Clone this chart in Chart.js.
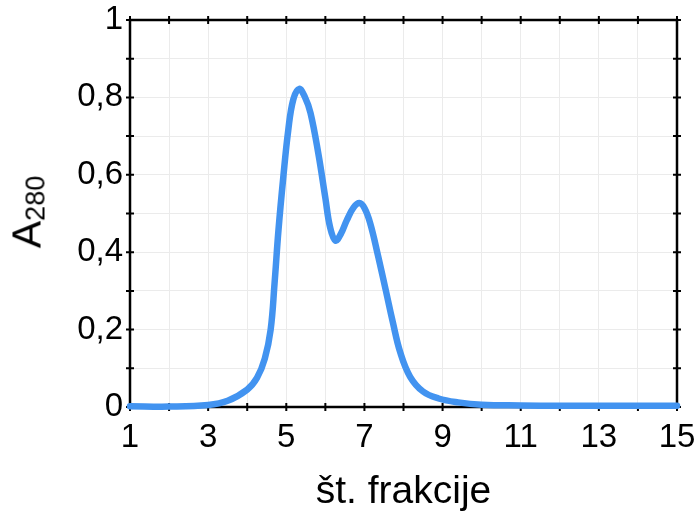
<!DOCTYPE html>
<html>
<head>
<meta charset="utf-8">
<script src="https://cdn.jsdelivr.net/npm/chart.js@4.4.1/dist/chart.umd.min.js"></script>
<style>
    html, body { margin: 0; padding: 0; background: #fff; }
    #wrap { position: relative; width: 696px; height: 516px; }
    #ytitle {
        position: absolute; left: 28px; top: 212px;
        transform: translate(-50%, -50%) rotate(-90deg);
        font-family: "Liberation Sans", Arial, sans-serif;
        font-size: 41px; color: #000; white-space: nowrap; line-height: 1;
    }
    #ytitle sub { font-size: 27px; vertical-align: -4px; }
</style>
</head>
<body>
<div id="wrap">
    <canvas id="chart" width="696" height="516"></canvas>
    <div id="ytitle">A<sub>280</sub></div>
</div>
<script>
// values
var fractions = [1, 2, 3, 3.5, 4, 4.25, 4.45, 4.6, 4.7, 4.8, 4.92, 5.05, 5.18, 5.33, 5.48, 5.62, 5.82, 6.0, 6.12, 6.26, 6.4, 6.55, 6.72, 6.87, 7.0, 7.15, 7.35, 7.55, 7.72, 7.92, 8.17, 8.5, 8.9, 9.4, 10, 11, 12, 13, 14, 15];
var absorbance = [0.002, 0.001, 0.005, 0.016, 0.045, 0.075, 0.125, 0.2, 0.32, 0.457, 0.59, 0.715, 0.795, 0.822, 0.8, 0.76, 0.655, 0.54, 0.465, 0.43, 0.448, 0.483, 0.515, 0.527, 0.514, 0.474, 0.39, 0.3, 0.222, 0.14, 0.078, 0.04, 0.022, 0.012, 0.006, 0.004, 0.003, 0.003, 0.003, 0.003];
var xTickLabels = [1, 3, 5, 7, 9, 11, 13, 15];
var yTickLabels = ['0', '0,2', '0,4', '0,6', '0,8', '1'];

var fontFamily = '"Liberation Sans", Arial, sans-serif';

var points = fractions.map(function (f, i) {
    return { x: f, y: absorbance[i] };
});

// black frame with ticks crossing on all four sides
var framePlugin = {
    id: 'frame',
    beforeDatasetsDraw: function (chart) {
        var ctx = chart.ctx;
        var area = chart.chartArea;
        var xs = chart.scales.x;
        var ys = chart.scales.y;
        var t = 4;
        ctx.save();
        ctx.strokeStyle = '#000';
        ctx.lineWidth = 2.5;
        ctx.strokeRect(area.left, area.top, area.right - area.left, area.bottom - area.top);
        ctx.lineWidth = 2;
        ctx.beginPath();
        xs.ticks.forEach(function (tk) {
            var px = xs.getPixelForValue(tk.value);
            ctx.moveTo(px, area.bottom - t); ctx.lineTo(px, area.bottom + t);
            ctx.moveTo(px, area.top - t); ctx.lineTo(px, area.top + t);
        });
        ys.ticks.forEach(function (tk) {
            var py = ys.getPixelForValue(tk.value);
            ctx.moveTo(area.left - t, py); ctx.lineTo(area.left + t, py);
            ctx.moveTo(area.right - t, py); ctx.lineTo(area.right + t, py);
        });
        ctx.stroke();
        ctx.restore();
    }
};

var ctx = document.getElementById('chart').getContext('2d');
new Chart(ctx, {
    type: 'line',
    data: {
        datasets: [{
            data: points,
            borderColor: '#4293f0',
            borderWidth: 6.5,
            pointRadius: 0,
            fill: false,
            tension: 0.4,
            borderCapStyle: 'round',
            borderJoinStyle: 'round',
            clip: false
        }]
    },
    options: {
        responsive: false,
        animation: false,
        layout: {
            autoPadding: false,
            padding: { left: 0, top: 20, right: 19, bottom: 0 }
        },
        plugins: {
            legend: { display: false },
            tooltip: { enabled: false }
        },
        scales: {
            x: {
                type: 'linear',
                min: 1,
                max: 15,
                afterFit: function (scale) {
                    scale.height = 109;
                    scale.paddingLeft = 0;
                    scale.paddingRight = 0;
                },
                grid: { color: '#ebebeb', lineWidth: 1, drawTicks: false },
                border: { display: false },
                ticks: {
                    stepSize: 1,
                    autoSkip: false,
                    maxRotation: 0,
                    padding: 11,
                    color: '#000',
                    font: { family: fontFamily, size: 33 },
                    callback: function (v) {
                        return xTickLabels.indexOf(v) >= 0 ? String(v) : '';
                    }
                },
                title: {
                    display: true,
                    text: 'št. frakcije',
                    color: '#000',
                    font: { family: fontFamily, size: 39 },
                    padding: { top: 0, bottom: 0 }
                }
            },
            y: {
                min: 0,
                max: 1,
                afterFit: function (scale) {
                    scale.width = 130;
                    scale.paddingTop = 0;
                    scale.paddingBottom = 0;
                },
                grid: { color: '#ebebeb', lineWidth: 1, drawTicks: false },
                border: { display: false },
                ticks: {
                    stepSize: 0.1,
                    autoSkip: false,
                    padding: 7,
                    color: '#000',
                    font: { family: fontFamily, size: 33 },
                    callback: function (v) {
                        var n = Math.round(v * 10);
                        return n % 2 === 0 ? yTickLabels[n / 2] : '';
                    }
                }
            }
        }
    },
    plugins: [framePlugin]
});
</script>
</body>
</html>
